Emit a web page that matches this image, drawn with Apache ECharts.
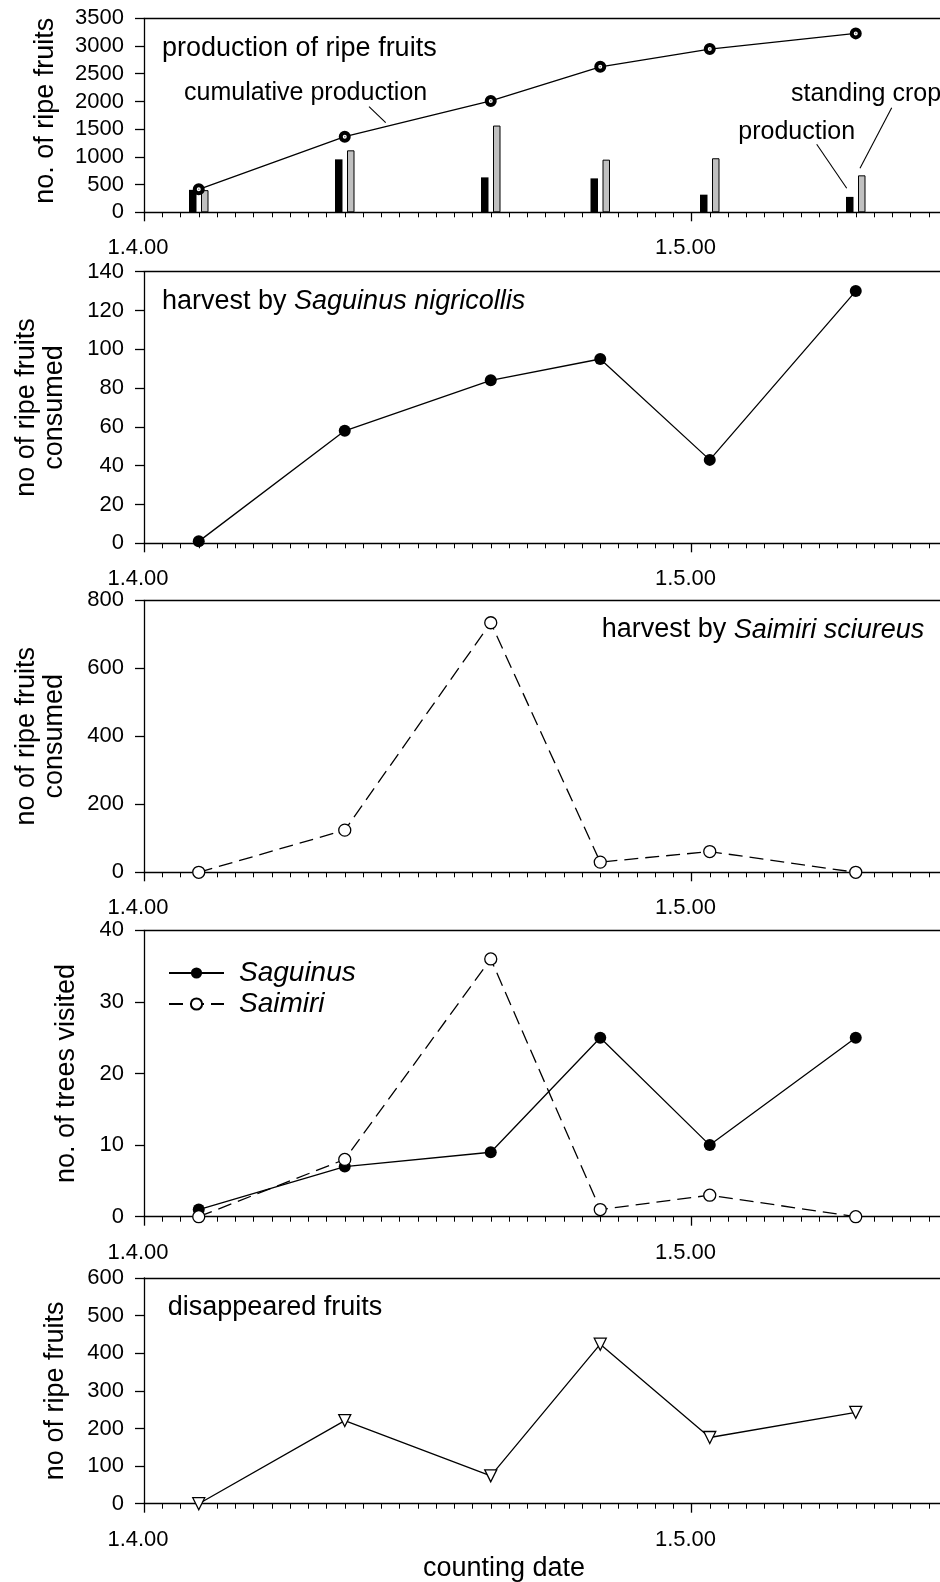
<!DOCTYPE html>
<html>
<head>
<meta charset="utf-8">
<script src="https://cdn.jsdelivr.net/npm/echarts@6/dist/echarts.min.js"></script>
<style>
  html, body { margin: 0; padding: 0; background: #fff; overflow: hidden; }
  #chart { width: 960px; height: 1582px; }
</style>
</head>
<body>
<div id="chart"></div>
<script>
// Counting dates of the fruit census
const countingDates = ['2000-04-04', '2000-04-12', '2000-04-20', '2000-04-26', '2000-05-02', '2000-05-10'];

// Production of ripe fruits
const production = [405, 955, 630, 612, 318, 278];
const standingCrop = [400, 1118, 1565, 950, 975, 667];
const cumulativeProduction = [415, 1365, 2010, 2625, 2945, 3228];

// Harvest by the two primate species
const saguinusHarvest = [1, 58, 84, 95, 43, 130];
const saimiriHarvest = [0, 124, 734, 30, 61, 0];

// Number of trees visited
const saguinusTrees = [1, 7, 9, 25, 10, 25];
const saimiriTrees = [0, 8, 36, 1, 3, 0];

// Fruits that disappeared between counts
const disappearedFruits = [0, 221, 74, 424, 176, 243];

// Date axis range and labelled ticks
const axisStart = '2000-04-01';
const axisEnd = '2000-05-15';
const xTickLabels = ['1.4.00', '1.5.00'];

const DAY = 86400000;
const FONT = '"Liberation Sans", Arial, Helvetica, sans-serif';
const dayOf = d => Math.round((Date.parse(d) - Date.parse(axisStart)) / DAY);
const pairs = vals => countingDates.map((d, i) => [dayOf(d), vals[i]]);

const panels = [
  { top: 18.3,  height: 194,   max: 3500, interval: 500, name: 'no. of ripe fruits', gap: 84, pad: [0, 0, 0, 9] },
  { top: 271.7, height: 271.6, max: 140,  interval: 20,  name: 'no of ripe fruits\nconsumed', gap: 75 },
  { top: 600.3, height: 272,   max: 800,  interval: 200, name: 'no of ripe fruits\nconsumed', gap: 75 },
  { top: 930.3, height: 286.4, max: 40,   interval: 10,  name: 'no. of trees visited', gap: 63 },
  { top: 1278,  height: 225.7, max: 600,  interval: 100, name: 'no of ripe fruits', gap: 74 }
];

const black = { color: '#000', width: 1.3 };

const grid = panels.map(p => ({
  left: 144, width: 803, top: p.top, height: p.height,
  outerBoundsMode: 'none', containLabel: false, show: false
}));

// bottom date axes (indices 0..4) carry the data; top axes (5..9) only close the frame
const bottomAxes = panels.map((p, i) => ({
  gridIndex: i, type: 'value', position: 'bottom', min: 0, max: dayOf(axisEnd), interval: 30,
  axisLine: { show: true, onZero: false, lineStyle: black },
  axisTick: { show: true, length: 9, lineStyle: black },
  minorTick: { show: true, splitNumber: 30, length: 5, lineStyle: { color: '#000', width: 1 } },
  splitLine: { show: false }, minorSplitLine: { show: false },
  axisLabel: {
    margin: 25, fontSize: 22, fontFamily: FONT, color: '#000', padding: [0, 12, 0, 0],
    showMaxLabel: false,
    formatter: v => (v % 30 === 0 ? xTickLabels[v / 30] || '' : '')
  }
}));
const topAxes = panels.map((p, i) => ({
  gridIndex: i, type: 'value', position: 'top', min: 0, max: dayOf(axisEnd),
  axisLine: { show: true, onZero: false, lineStyle: black },
  axisTick: { show: false }, axisLabel: { show: false }, splitLine: { show: false }
}));
const xAxis = bottomAxes.concat(topAxes);

const yAxis = panels.map((p, i) => ({
  gridIndex: i, type: 'value', min: 0, max: p.max, interval: p.interval,
  axisLine: { show: true, onZero: false, lineStyle: black },
  axisTick: { show: true, length: 9, lineStyle: black },
  splitLine: { show: false },
  axisLabel: { margin: 20, fontSize: 22, fontFamily: FONT, color: '#000', formatter: v => String(v) },
  name: p.name, nameLocation: 'middle', nameGap: p.gap,
  nameTextStyle: { fontSize: 27, fontFamily: FONT, color: '#000', lineHeight: 28, padding: p.pad || 0 }
}));

const lineStyle = { color: '#000', width: 1.3 };
const dashed = { color: '#000', width: 1.3, type: [14, 7] };
const openMark = { color: '#fff', borderColor: '#000', borderWidth: 1.3 };

const series = [
  // production panel
  { name: 'production', type: 'bar', xAxisIndex: 0, yAxisIndex: 0, data: pairs(production),
    barWidth: 7.5, barGap: '60%', itemStyle: { color: '#000' } },
  { name: 'standing crop', type: 'bar', xAxisIndex: 0, yAxisIndex: 0, data: pairs(standingCrop),
    barWidth: 7.5, itemStyle: { color: '#c0c0c0', borderColor: '#000', borderWidth: 1 } },
  { name: 'cumulative production', type: 'line', xAxisIndex: 0, yAxisIndex: 0, data: pairs(cumulativeProduction),
    symbol: 'circle', symbolSize: 8, lineStyle,
    itemStyle: { color: '#fff', borderColor: '#000', borderWidth: 4 }, z: 3 },
  { name: 'cumulative centre', type: 'scatter', xAxisIndex: 0, yAxisIndex: 0, data: pairs(cumulativeProduction),
    symbol: 'circle', symbolSize: 1.6, itemStyle: { color: '#666' }, z: 4 },
  // harvest by Saguinus
  { name: 'Saguinus harvest', type: 'line', xAxisIndex: 1, yAxisIndex: 1, data: pairs(saguinusHarvest),
    symbol: 'circle', symbolSize: 12, lineStyle, itemStyle: { color: '#000' } },
  // harvest by Saimiri
  { name: 'Saimiri harvest', type: 'line', xAxisIndex: 2, yAxisIndex: 2, data: pairs(saimiriHarvest),
    symbol: 'circle', symbolSize: 12, lineStyle: dashed, itemStyle: openMark },
  // trees visited
  { name: 'Saguinus', type: 'line', xAxisIndex: 3, yAxisIndex: 3, data: pairs(saguinusTrees),
    symbol: 'circle', symbolSize: 12, lineStyle, itemStyle: { color: '#000' }, z: 3 },
  { name: 'Saimiri', type: 'line', xAxisIndex: 3, yAxisIndex: 3, data: pairs(saimiriTrees),
    symbol: 'circle', symbolSize: 12, lineStyle: dashed, itemStyle: openMark, z: 4 },
  // disappeared fruits
  { name: 'disappeared', type: 'line', xAxisIndex: 4, yAxisIndex: 4, data: pairs(disappearedFruits),
    symbol: 'triangle', symbolRotate: 180, symbolSize: 12, lineStyle, itemStyle: openMark }
];

const txt = (x, y, text, size, extra) => ({
  type: 'text', x, y, z: 100,
  style: Object.assign({
    text, fontSize: size, fontFamily: FONT, fill: '#000', align: 'left', verticalAlign: 'middle',
    rich: { i: { fontStyle: 'italic', fontSize: size, fontFamily: FONT, fill: '#000' },
            n: { fontSize: size, fontFamily: FONT, fill: '#000' } }
  }, extra || {})
});
const seg = (x1, y1, x2, y2) => ({
  type: 'line', z: 100, shape: { x1, y1, x2, y2 }, style: { stroke: '#000', lineWidth: 1.1 }
});

const graphic = [
  txt(162, 48.7, 'production of ripe fruits', 27),
  txt(184, 93.3, 'cumulative production', 25),
  seg(369, 106.7, 385.7, 122.7),
  txt(791, 94.3, 'standing crop', 25),
  seg(891.7, 107.7, 860, 168.3),
  txt(738.3, 131.7, 'production', 25),
  seg(816.7, 144.3, 846.7, 188.3),
  txt(162, 301.7, '{n|harvest by }{i|Saguinus nigricollis}', 27),
  txt(601.7, 630, '{n|harvest by }{i|Saimiri sciureus}', 27),
  txt(167.7, 1307.7, 'disappeared fruits', 27),
  txt(504, 1568.5, 'counting date', 27, { align: 'center' })
];

const chart = echarts.init(document.getElementById('chart'), null, { renderer: 'canvas' });
chart.setOption({
  animation: false,
  backgroundColor: '#fff',
  grid, xAxis, yAxis, series, graphic,
  legend: {
    data: ['Saguinus', 'Saimiri'],
    orient: 'vertical', left: 163, top: 954,
    itemWidth: 55, itemHeight: 14, itemGap: 3,
    textStyle: { fontSize: 28, fontStyle: 'italic', fontFamily: FONT, color: '#000', padding: [0, 0, 0, 10] }
  }
});
</script>
</body>
</html>
